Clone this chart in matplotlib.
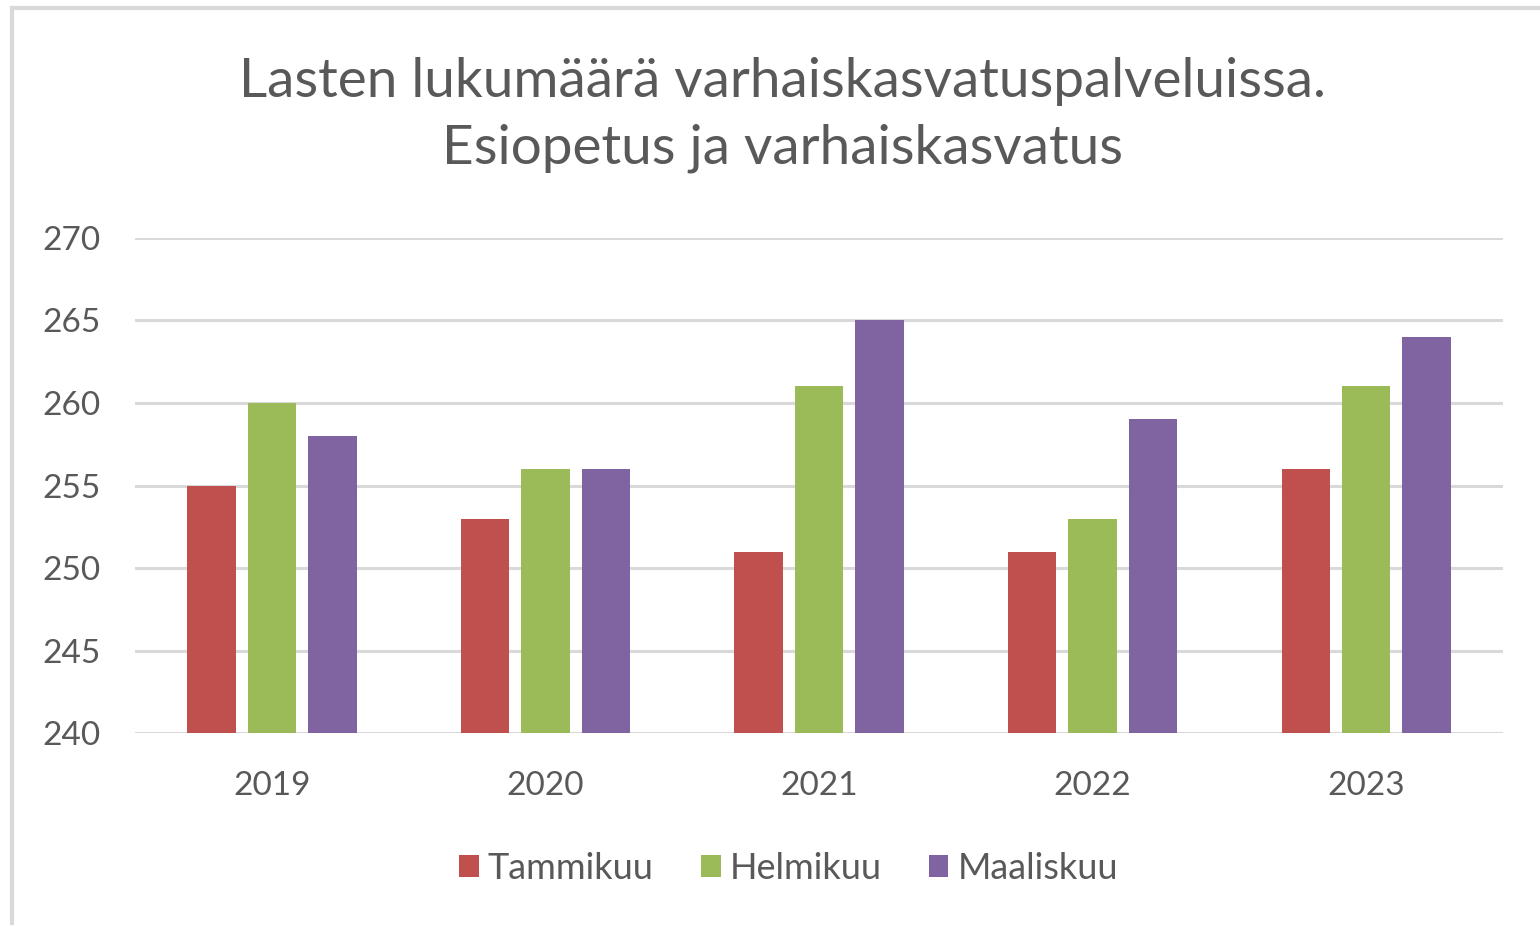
import numpy as np
import matplotlib.pyplot as plt
from matplotlib.lines import Line2D

years = ['2019', '2020', '2021', '2022', '2023']
tammikuu = [255, 253, 251, 251, 256]
helmikuu = [260, 256, 261, 253, 261]
maaliskuu = [258, 256, 265, 259, 264]
series_names = ['Tammikuu', 'Helmikuu', 'Maaliskuu']
colors = ['#C0504D', '#9BBB59', '#8064A2']
text_color = '#595959'

plt.rcParams['font.family'] = ['Lato', 'DejaVu Sans']

fig = plt.figure(figsize=(15.4, 9.26), dpi=100)
ax = fig.add_axes([0.0877, 0.2084, 0.8883, 0.5346])

x = np.arange(len(years))
step = 0.221
width = 0.177
for i, (vals, name, c) in enumerate(zip([tammikuu, helmikuu, maaliskuu], series_names, colors)):
    ax.bar(x + (i - 1) * step, np.array(vals) - 240, width, bottom=240, color=c, label=name, zorder=3)

ax.set_xlim(-0.5, 4.5)
ax.set_ylim(240, 270)
ax.set_yticks(np.arange(240, 271, 5))
ax.set_xticks(x)
ax.set_xticklabels(years)
ax.grid(axis='y', color='#D9D9D9', linewidth=2.2, zorder=0)
for s in ax.spines.values():
    s.set_visible(False)
ax.tick_params(length=0, labelsize=24, colors=text_color)
ax.tick_params(axis='y', pad=25)
ax.tick_params(axis='x', pad=27)

fig.text(0.508, 0.876, 'Lasten lukumäärä varhaiskasvatuspalveluissa.\nEsiopetus ja varhaiskasvatus',
         ha='center', va='center', fontsize=39.5, color=text_color, linespacing=1.45)

leg = fig.legend(loc='center', bbox_to_anchor=(0.512, 0.062), ncol=3, frameon=False,
                 fontsize=26, handlelength=0.55, handleheight=0.55, handletextpad=0.25,
                 columnspacing=1.3, labelcolor=text_color)

# outer chart border (cut on right/bottom)
bx = 12.5 / 1540
by = 1 - 7.5 / 926
fig.add_artist(Line2D([bx, bx], [0.003, by], transform=fig.transFigure, color='#D9D9D9', linewidth=3))
fig.add_artist(Line2D([bx, 1.0], [by, by], transform=fig.transFigure, color='#D9D9D9', linewidth=3))

fig.savefig('out.png', dpi=100)
